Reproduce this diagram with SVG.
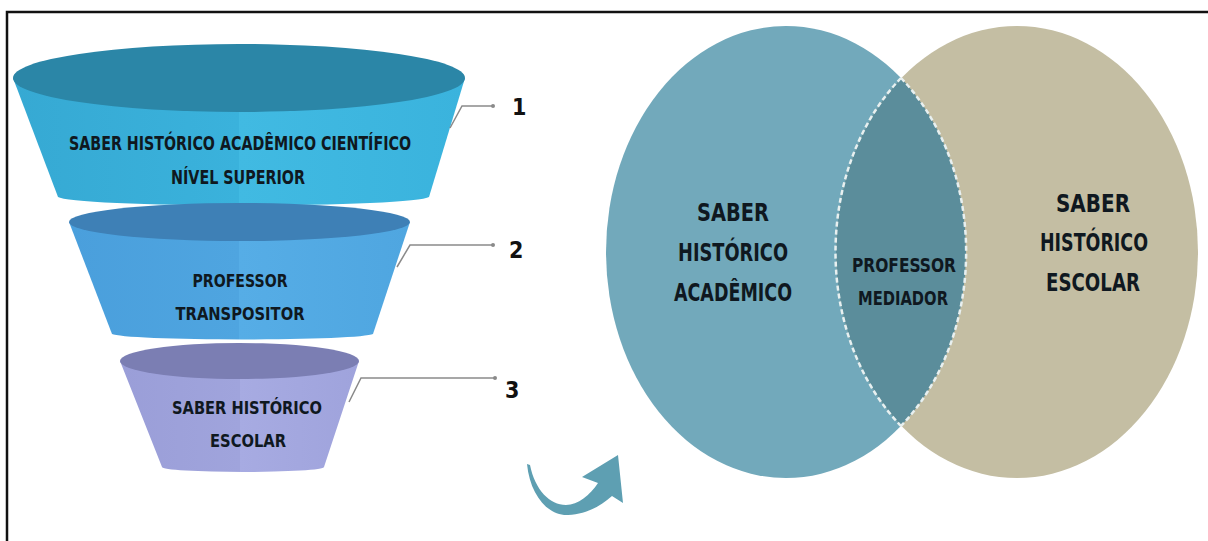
<svg xmlns="http://www.w3.org/2000/svg" width="1208" height="541" viewBox="0 0 1208 541">
<defs>
<style>
.t{font-family:"DejaVu Sans Condensed","DejaVu Sans",sans-serif;font-weight:bold;fill:#0f1820;text-anchor:middle}
.n{font-family:"Liberation Sans Narrow","DejaVu Sans Condensed",sans-serif;font-weight:bold;font-size:23px;fill:#111}
.lead{fill:none;stroke:#8a8a8a;stroke-width:1.5}
.dot{fill:#8a8a8a}
</style>
<linearGradient id="g1" x1="0" x2="1" y1="0" y2="0"><stop offset="0" stop-color="#36a9d3"/><stop offset="0.5" stop-color="#3ab2dc"/><stop offset="0.5" stop-color="#41bae2"/><stop offset="1" stop-color="#3ab3dd"/></linearGradient>
<linearGradient id="g2" x1="0" x2="1" y1="0" y2="0"><stop offset="0" stop-color="#4a9fdc"/><stop offset="0.5" stop-color="#4fa5e0"/><stop offset="0.5" stop-color="#56ade6"/><stop offset="1" stop-color="#4fa6e0"/></linearGradient>
<linearGradient id="g3" x1="0" x2="1" y1="0" y2="0"><stop offset="0" stop-color="#9a9ed8"/><stop offset="0.5" stop-color="#a0a4dc"/><stop offset="0.5" stop-color="#a7abe2"/><stop offset="1" stop-color="#9fa3dc"/></linearGradient>
</defs>
<rect x="0" y="0" width="1208" height="541" fill="#ffffff"/>
<path d="M7,545 L7,12 L1212,12" fill="none" stroke="#111" stroke-width="2.5"/>

<g id="funnel1">
<path d="M13,78 L58,197 A186,9 0 0 0 429,197 L465,78 Z" fill="url(#g1)"/>
<ellipse cx="239" cy="78" rx="226" ry="34" fill="#2b86a7"/>
<text class="t" x="240" y="150" font-size="20" textLength="342" lengthAdjust="spacingAndGlyphs">SABER HISTÓRICO ACADÊMICO CIENTÍFICO</text>
<text class="t" x="238" y="184" font-size="20" textLength="134" lengthAdjust="spacingAndGlyphs">NÍVEL SUPERIOR</text>
</g>

<g id="funnel2">
<path d="M69,222 L112,334 A131,6 0 0 0 373,334 L410,222 Z" fill="url(#g2)"/>
<ellipse cx="239.5" cy="222" rx="170.5" ry="19" fill="#3e80b6"/>
<text class="t" x="240" y="287" font-size="18" textLength="95" lengthAdjust="spacingAndGlyphs">PROFESSOR</text>
<text class="t" x="240" y="320" font-size="18" textLength="129" lengthAdjust="spacingAndGlyphs">TRANSPOSITOR</text>
</g>

<g id="funnel3">
<path d="M120,361 L162,467 A81,5 0 0 0 324,467 L359,361 Z" fill="url(#g3)"/>
<ellipse cx="239.5" cy="361" rx="119.5" ry="18" fill="#7b7eb3"/>
<text class="t" x="247" y="414" font-size="18" textLength="150" lengthAdjust="spacingAndGlyphs">SABER HISTÓRICO</text>
<text class="t" x="248" y="447" font-size="18" textLength="76" lengthAdjust="spacingAndGlyphs">ESCOLAR</text>
</g>

<g id="connectors">
<path class="lead" d="M450,128 L462,106 L492,106"/>
<circle class="dot" cx="493" cy="106" r="2"/>
<path class="lead" d="M397,267 L410,245 L492,245"/>
<circle class="dot" cx="493" cy="245" r="2"/>
<path class="lead" d="M349,402 L361,378 L494,378"/>
<circle class="dot" cx="495" cy="378" r="2"/>
<path d="M527,464 C530,495 548,516 568,515 C588,514 602,505 612,496 L623,503 L618,455 L582,477 L598,483 C590,495 578,505 566,505 C550,505 535,490 530,465 Z" fill="#5e9fb2"/>
</g>

<g id="label1"><text class="n" x="512" y="115">1</text></g>
<g id="label2"><text class="n" x="509" y="258">2</text></g>
<g id="label3"><text class="n" x="505" y="398">3</text></g>

<g id="venn-academico">
<ellipse cx="786" cy="252" rx="180" ry="226" fill="#72a9bb"/>
</g>
<g id="venn-escolar">
<ellipse cx="1017" cy="252" rx="181" ry="226" fill="#c4bea3"/>
</g>
<g id="venn-mediador">
<clipPath id="clipL"><ellipse cx="786" cy="252" rx="180" ry="226"/></clipPath>
<ellipse cx="1017" cy="252" rx="181" ry="226" fill="#5b8d9b" clip-path="url(#clipL)"/>
<path d="M901,78 A180,226 0 0 1 901,426" fill="none" stroke="#e8f0f0" stroke-width="2.5" stroke-dasharray="5,3"/>
<path d="M901,78 A181,226 0 0 0 901,426" fill="none" stroke="#e8f0f0" stroke-width="2.5" stroke-dasharray="5,3"/>
<text class="t" x="904" y="272" font-size="19" textLength="104" lengthAdjust="spacingAndGlyphs">PROFESSOR</text>
<text class="t" x="903" y="305" font-size="19" textLength="90" lengthAdjust="spacingAndGlyphs">MEDIADOR</text>
</g>
<g id="venn-text">
<text class="t" x="733" y="221" font-size="24" textLength="72" lengthAdjust="spacingAndGlyphs">SABER</text>
<text class="t" x="733" y="261" font-size="24" textLength="110" lengthAdjust="spacingAndGlyphs">HISTÓRICO</text>
<text class="t" x="733" y="301" font-size="24" textLength="118" lengthAdjust="spacingAndGlyphs">ACADÊMICO</text>
<text class="t" x="1093" y="212" font-size="24" textLength="74" lengthAdjust="spacingAndGlyphs">SABER</text>
<text class="t" x="1094" y="251" font-size="24" textLength="108" lengthAdjust="spacingAndGlyphs">HISTÓRICO</text>
<text class="t" x="1093" y="291" font-size="24" textLength="94" lengthAdjust="spacingAndGlyphs">ESCOLAR</text>
</g>
</svg>
